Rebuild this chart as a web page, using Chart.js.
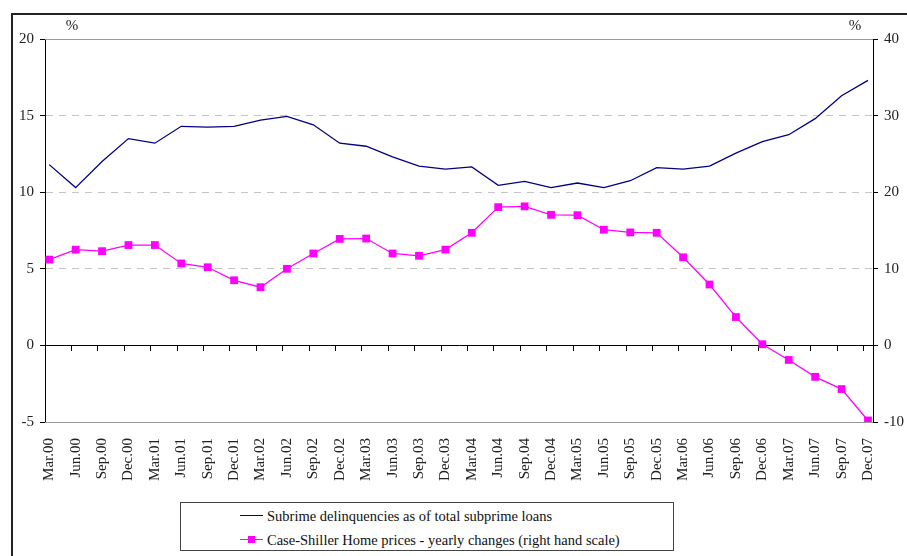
<!DOCTYPE html>
<html>
<head>
<meta charset="utf-8">
<script src="https://cdn.jsdelivr.net/npm/chart.js@4.4.1/dist/chart.umd.min.js"></script>
<style>
  html, body { margin: 0; padding: 0; background: #fff; }
  #wrap { position: relative; width: 907px; height: 556px; overflow: hidden; }
  #frame { position: absolute; left: 11px; top: 13px; width: 1000px; height: 700px;
           border-left: 2px solid #222; border-top: 2px solid #222; }
  #chart { position: absolute; left: 0; top: 0; }
  #legend { position: absolute; left: 180px; top: 502px; width: 492px; height: 47px;
            border: 1px solid #444; background: #fff;
            font-family: "Liberation Serif", "DejaVu Serif", serif; font-size: 14.5px; color: #111; }
  #legend .row { position: absolute; left: 59px; height: 20px; display: flex; align-items: center; }
  #legend .swatch { position: relative; width: 23px; height: 20px; margin-right: 4px; }
  #legend .swatch i { position: absolute; left: 0; right: 0; top: 9px; height: 0; border-top: 1.5px solid; }
  #legend .swatch b { position: absolute; left: 8px; top: 6px; width: 7px; height: 7px; }
</style>
</head>
<body>
<div id="wrap">
  <div id="frame"></div>
  <canvas id="chart" width="907" height="556"></canvas>
  <div id="legend"></div>
</div>
<script>
'use strict';

const quarters = [
  'Mar.00', 'Jun.00', 'Sep.00', 'Dec.00', 'Mar.01', 'Jun.01', 'Sep.01', 'Dec.01',
  'Mar.02', 'Jun.02', 'Sep.02', 'Dec.02', 'Mar.03', 'Jun.03', 'Sep.03', 'Dec.03',
  'Mar.04', 'Jun.04', 'Sep.04', 'Dec.04', 'Mar.05', 'Jun.05', 'Sep.05', 'Dec.05',
  'Mar.06', 'Jun.06', 'Sep.06', 'Dec.06', 'Mar.07', 'Jun.07', 'Sep.07', 'Dec.07'
];

// % of total subprime loans (left scale)
const delinquencies = [
  11.8, 10.3, 12.0, 13.5, 13.2, 14.3, 14.25, 14.3,
  14.7, 14.95, 14.4, 13.2, 13.0, 12.3, 11.7, 11.5,
  11.65, 10.45, 10.7, 10.3, 10.6, 10.3, 10.75, 11.6,
  11.5, 11.7, 12.55, 13.3, 13.75, 14.8, 16.3, 17.3
];

// yearly % change (right scale)
const homePrices = [
  11.2, 12.5, 12.3, 13.1, 13.1, 10.7, 10.2, 8.5,
  7.6, 10.0, 12.0, 13.9, 13.95, 12.0, 11.7, 12.5,
  14.7, 18.05, 18.15, 17.05, 17.0, 15.1, 14.75, 14.7,
  11.5, 7.95, 3.7, 0.15, -1.9, -4.1, -5.7, -9.8
];

const leftTicks = [-5, 0, 5, 10, 15, 20];
const rightTicks = [-10, 0, 10, 20, 30, 40];

const seriesNames = [
  'Subrime delinquencies as of total subprime loans',
  'Case-Shiller Home prices - yearly changes (right hand scale)'
];

const FONT = { family: '"Liberation Serif", "DejaVu Serif", serif', size: 15 };
const X_MIN = -0.16, X_MAX = 31.19;

const asPoints = arr => arr.map((v, i) => ({ x: i, y: v }));

// plot frame: grey lines at top/bottom of plot area, "%" unit marks
const plotFrame = {
  id: 'plotFrame',
  afterDraw(chart) {
    const { ctx, chartArea: a } = chart;
    ctx.save();
    ctx.strokeStyle = '#999';
    ctx.lineWidth = 1;
    ctx.beginPath();
    ctx.moveTo(a.left, Math.round(a.top) + 0.5);
    ctx.lineTo(a.right, Math.round(a.top) + 0.5);
    ctx.moveTo(a.left, Math.round(a.bottom) + 0.5);
    ctx.lineTo(a.right, Math.round(a.bottom) + 0.5);
    ctx.stroke();
    ctx.fillStyle = '#222';
    ctx.font = `${FONT.size}px ${FONT.family}`;
    ctx.textAlign = 'center';
    ctx.textBaseline = 'middle';
    ctx.fillText('%', a.left + 27, a.top - 13);
    ctx.fillText('%', a.right - 18, a.top - 13);
    ctx.restore();
  }
};

const chart = new Chart(document.getElementById('chart'), {
  type: 'line',
  data: {
    datasets: [{
      label: seriesNames[0],
      data: asPoints(delinquencies),
      yAxisID: 'y',
      borderColor: '#000080',
      borderWidth: 1.3,
      pointRadius: 0,
      tension: 0,
    }, {
      label: seriesNames[1],
      data: asPoints(homePrices),
      yAxisID: 'y2',
      borderColor: '#ff00ff',
      backgroundColor: '#ff00ff',
      borderWidth: 1.3,
      pointStyle: 'rect',
      pointRadius: 5.5,
      pointBorderWidth: 0,
      tension: 0,
    }]
  },
  options: {
    responsive: false,
    animation: false,
    layout: { padding: { top: 39, left: 0, right: 0, bottom: 0 } },
    plugins: {
      legend: { display: false },
      tooltip: { enabled: false }
    },
    scales: {
      x: {
        type: 'linear',
        position: 'bottom',
        min: X_MIN,
        max: X_MAX,
        afterBuildTicks: s => { s.ticks = quarters.map((_, i) => ({ value: i })); },
        afterFit: s => { s.height = 134; },
        grid: { display: false },
        border: { display: false },
        ticks: {
          autoSkip: false,
          maxRotation: 90,
          minRotation: 90,
          padding: 8,
          color: '#222',
          font: FONT,
          callback: v => quarters[v]
        }
      },
      // category axis line crossing at zero
      x0: {
        type: 'linear',
        position: { y: 0 },
        min: X_MIN,
        max: X_MAX,
        afterBuildTicks: s => { s.ticks = quarters.map((_, i) => ({ value: i + X_MIN })); },
        afterFit: s => { s.height = 0; },
        grid: { drawOnChartArea: false, tickLength: 5, tickColor: '#000' },
        border: { color: '#000', width: 1 },
        ticks: { display: false }
      },
      y: {
        position: 'left',
        min: -5,
        max: 20,
        afterBuildTicks: s => { s.ticks = leftTicks.map(v => ({ value: v })); },
        afterFit: s => { s.width = 45; },
        grid: {
          color: c => (c.tick && c.tick.value > 0 && c.tick.value < 20) ? '#c4c4c4' : 'rgba(0,0,0,0)',
          tickColor: '#000',
          tickLength: 5,
          tickBorderDash: []
        },
        border: {
          color: '#000',
          width: 1,
          dash: c => (c.tick ? [7, 6] : [])
        },
        ticks: { padding: 6, color: '#222', font: FONT }
      },
      y2: {
        position: 'right',
        min: -10,
        max: 40,
        afterBuildTicks: s => { s.ticks = rightTicks.map(v => ({ value: v })); },
        afterFit: s => { s.width = 34; },
        grid: { drawOnChartArea: false, tickColor: '#000', tickLength: 5 },
        border: { color: '#000', width: 1 },
        ticks: { padding: 6, color: '#222', font: FONT }
      }
    }
  },
  plugins: [plotFrame]
});

// legend box built from the datasets
const legendEl = document.getElementById('legend');
chart.data.datasets.forEach((ds, i) => {
  const row = document.createElement('div');
  row.className = 'row';
  row.style.top = (3 + i * 24) + 'px';
  const sw = document.createElement('span');
  sw.className = 'swatch';
  const line = document.createElement('i');
  line.style.borderColor = ds.borderColor;
  sw.appendChild(line);
  if (ds.pointRadius) {
    const mark = document.createElement('b');
    mark.style.background = ds.backgroundColor;
    sw.appendChild(mark);
  }
  const txt = document.createElement('span');
  txt.textContent = ds.label;
  row.appendChild(sw);
  row.appendChild(txt);
  legendEl.appendChild(row);
});
</script>
</body>
</html>
